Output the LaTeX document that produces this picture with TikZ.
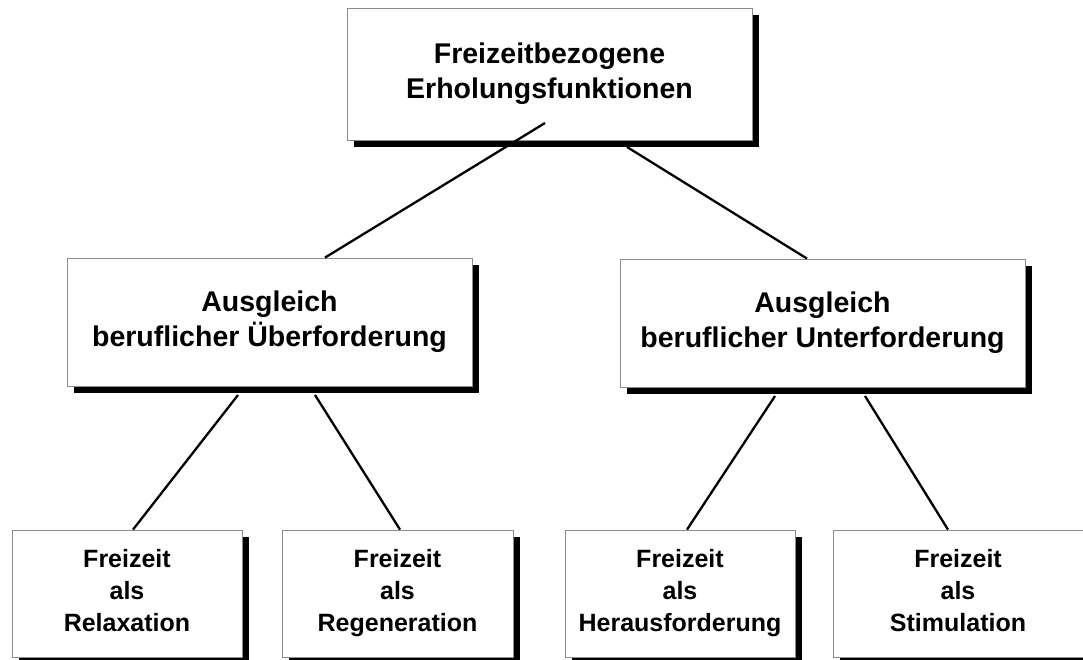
\documentclass[tikz,border=0pt]{standalone}
\usepackage{fontspec}
\setmainfont{Liberation Sans}
\usetikzlibrary{shadows}
\begin{document}
\begin{tikzpicture}[x=1pt,y=-1pt,
  boxbase/.style={draw=black!45, line width=0.8pt, fill=white, align=center, inner sep=0pt,
    drop shadow={shadow xshift=7pt, shadow yshift=-7pt, fill=black, opacity=1}},
  bigbox/.style={boxbase, font=\bfseries\fontsize{28.5}{35}\selectfont},
  smallbox/.style={boxbase, font=\bfseries\fontsize{25}{32}\selectfont, minimum width=230pt, minimum height=127pt},
  conn/.style={line width=2.3pt, black}]
\useasboundingbox (0,0) rectangle (1083,659);
\fill[white] (0,0) rectangle (1083,659);

\node[bigbox, minimum width=405pt, minimum height=132pt] (top) at (549.5,74) {\strut Freizeitbezogene\\Erholungsfunktionen\strut};
\node[bigbox, minimum width=405pt, minimum height=128pt] (lm) at (269.5,322) {\strut Ausgleich\\beruflicher Überforderung\strut};
\node[bigbox, minimum width=405pt, minimum height=128pt] (rm) at (822.5,323) {\strut Ausgleich\\beruflicher Unterforderung\strut};

\node[smallbox] (b1) at (127,593.5) {\strut Freizeit\\als\\Relaxation\strut};
\node[smallbox, minimum width=231pt] (b2) at (397.5,593.5) {\strut Freizeit\\als\\Regeneration\strut};
\node[smallbox] (b3) at (680,593.5) {\strut Freizeit\\als\\Herausforderung\strut};
\node[smallbox, minimum width=250pt] (b4) at (958,593.5) {\strut Freizeit\\als\\Stimulation\strut};

\coordinate (t1) at (545,123);
\coordinate (t2) at (627,147);
\coordinate (l1) at (238,395);
\coordinate (l2) at (315,395);
\coordinate (r1) at (775,396);
\coordinate (r2) at (865,396);

\draw[conn] (t1) -- (lm.north -| 325,0);
\draw[conn] (t2) -- (rm.north -| 807,0);
\draw[conn] (l1) -- (b1.north -| 133,0);
\draw[conn] (l2) -- (b2.north -| 400,0);
\draw[conn] (r1) -- (b3.north -| 687,0);
\draw[conn] (r2) -- (b4.north -| 948,0);
\end{tikzpicture}
\end{document}
